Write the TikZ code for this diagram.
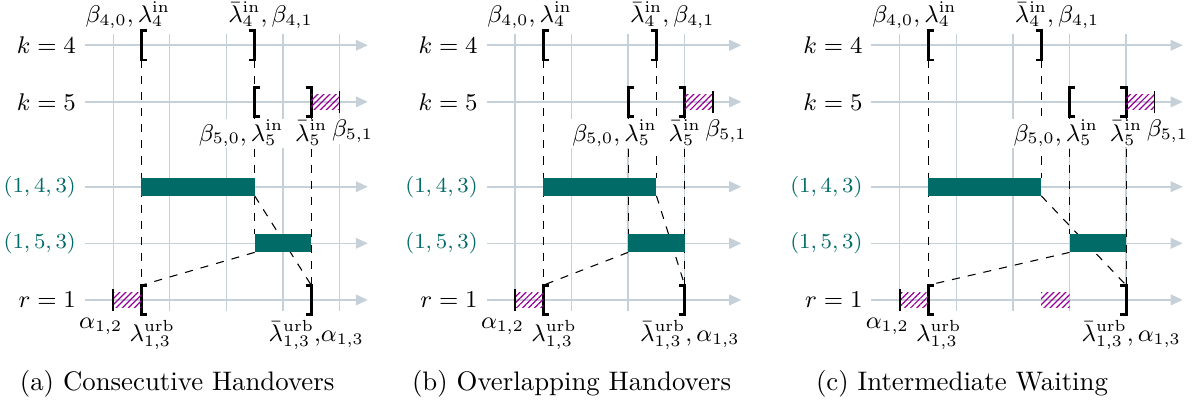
\documentclass[tikz,border=0pt]{standalone}
\usepackage{amsmath}
\usetikzlibrary{arrows.meta, patterns.meta}
\definecolor{gridc}{HTML}{C5D0D9}
\definecolor{barc}{RGB}{0,107,103}
\definecolor{hatchc}{RGB}{150,0,150}

% brackets at (x,y); end coordinates <name>t and <name>b
\newcommand{\obrk}[3]{%
  \draw[brk] (#2+0.1,#3+0.26) -- (#2,#3+0.26) -- (#2,#3-0.26) -- (#2+0.1,#3-0.26);
  \coordinate (#1t) at (#2,#3+0.26);
  \coordinate (#1b) at (#2,#3-0.26);}
\newcommand{\cbrk}[3]{%
  \draw[brk] (#2-0.1,#3+0.26) -- (#2,#3+0.26) -- (#2,#3-0.26) -- (#2-0.1,#3-0.26);
  \coordinate (#1t) at (#2,#3+0.26);
  \coordinate (#1b) at (#2,#3-0.26);}
% waiting interval and end mark
\newcommand{\waitint}[3]{\fill[hatch] (#1,#3-0.13) rectangle (#2,#3+0.13);}
\newcommand{\emark}[2]{\draw[endmark] (#1,#2-0.2) -- (#1,#2+0.2);}
% corners of a usage bar: <name>nw, <name>ne, <name>sw, <name>se
\newcommand{\tbar}[4]{%
  \coordinate (#1nw) at (#2,#4+0.16); \coordinate (#1sw) at (#2,#4-0.16);
  \coordinate (#1ne) at (#3,#4+0.16); \coordinate (#1se) at (#3,#4-0.16);}
% row labels of one panel
\newcommand{\rowlabels}[1]{%
  \node[rowlbl] (#1k4) at (0.35,4.5) {$k=4$};
  \node[rowlbl] (#1k5) at (0.35,3.5) {$k=5$};
  \node[rowlbl, tuple] (#1p143) at (0.35,2) {$(1,4,3)$};
  \node[rowlbl, tuple] (#1p153) at (0.35,1) {$(1,5,3)$};
  \node[rowlbl] (#1r1) at (0.35,0) {$r=1$};}

\begin{document}
\begin{tikzpicture}[
  x=0.742cm, y=0.742cm,
  gridline/.style={draw=gridc, line width=0.5pt},
  axis/.style={draw=gridc, line width=0.6pt, -{Triangle[length=4.5pt, width=4pt]}},
  brk/.style={line width=1.1pt},
  hatch/.style={pattern={Lines[angle=45, distance=1.6pt, line width=0.45pt]}, pattern color=hatchc},
  endmark/.style={line width=0.6pt},
  bar/.style={fill=barc},
  conn/.style={dashed, line width=0.4pt},
  rowlbl/.style={anchor=east, inner sep=0pt, font=\small},
  tuple/.style={text=barc, font=\footnotesize},
  toplbl/.style={anchor=south, inner sep=0pt, font=\small},
  lbl/.style={anchor=north, inner sep=0.5pt, fill=white, font=\small},
  caption/.style={font=\normalsize}
]
  \useasboundingbox (-1.0,-1.873) rectangle (20.1,5.30);

  % (a) consecutive handovers
  \begin{scope}
    \foreach \x in {1,...,5} \draw[gridline] (\x,-0.2) -- (\x,4.7);
    \foreach \y in {0,1,2,3.5,4.5} \draw[axis] (0.5,\y) -- (5.5,\y);
    \rowlabels{a}
    \obrk{a4o}{1.5}{4.5} \cbrk{a4c}{3.5}{4.5}
    \obrk{a5o}{3.5}{3.5} \cbrk{a5c}{4.5}{3.5}
    \obrk{ar1o}{1.5}{0} \cbrk{ar1c}{4.5}{0}
    \tbar{a1}{1.5}{3.5}{2} \tbar{a2}{3.5}{4.5}{1}
    \draw[conn] (a4ob) -- (ar1ot);
    \draw[conn] (a4cb) -- (a5ot);
    \draw[conn] (a5ob) -- (a2nw);
    \draw[conn] (a5cb) -- (ar1ct);
    \draw[conn] (a1se) -- (ar1ct);
    \draw[conn] (a2sw) -- (ar1ot);
    \fill[bar] (a1sw) rectangle (a1ne);
    \fill[bar] (a2sw) rectangle (a2ne);
    \waitint{4.5}{5}{3.5} \emark{5}{3.5}
    \waitint{1}{1.5}{0} \emark{1}{0}
    \node[toplbl] (a40) at (1.26,4.79) {$\beta_{4,0}, \lambda^{\mathrm{in}}_4$};
    \node[toplbl] (a41) at (3.78,4.79) {$\bar\lambda^{\mathrm{in}}_4, \beta_{4,1}$};
    \node[lbl] (a50) at (3.26,3.21) {$\beta_{5,0}, \lambda^{\mathrm{in}}_5$};
    \node[lbl] (a5e) at (4.5,3.21) {$\bar\lambda^{\mathrm{in}}_5$};
    \node[lbl] (a51) at (5.23,3.21) {$\beta_{5,1}$};
    \node[lbl] (a12) at (0.78,-0.29) {$\alpha_{1,2}$};
    \node[lbl] (a13s) at (1.69,-0.33) {$\lambda^{\mathrm{urb}}_{1,3}$};
    \node[lbl] (a13e) at (4.59,-0.33) {$\bar\lambda^{\mathrm{urb}}_{1,3},\!\alpha_{1,3}$};
    \node[caption] (capa) at (2.13,-1.48) {(a) Consecutive Handovers};
  \end{scope}

  % (b) overlapping handovers
  \begin{scope}[shift={(7.1,0)}]
    \foreach \x in {1,...,4} \draw[gridline] (\x,-0.2) -- (\x,4.7);
    \foreach \y in {0,1,2,3.5,4.5} \draw[axis] (0.5,\y) -- (5.0,\y);
    \rowlabels{b}
    \obrk{b4o}{1.5}{4.5} \cbrk{b4c}{3.5}{4.5}
    \obrk{b5o}{3.0}{3.5} \cbrk{b5c}{4.0}{3.5}
    \obrk{br1o}{1.5}{0} \cbrk{br1c}{4.0}{0}
    \tbar{b1}{1.5}{3.5}{2} \tbar{b2}{3.0}{4.0}{1}
    \draw[conn] (b4ob) -- (br1ot);
    \draw[conn] (b4cb) -- (b1ne);
    \draw[conn] (b5ob) -- (b2nw);
    \draw[conn] (b5cb) -- (br1ct);
    \draw[conn] (b1se) -- (br1ct);
    \draw[conn] (b2sw) -- (br1ot);
    \fill[bar] (b1sw) rectangle (b1ne);
    \fill[bar] (b2sw) rectangle (b2ne);
    \waitint{4.0}{4.5}{3.5} \emark{4.5}{3.5}
    \waitint{1}{1.5}{0} \emark{1}{0}
    \node[toplbl] (b40) at (1.26,4.79) {$\beta_{4,0}, \lambda^{\mathrm{in}}_4$};
    \node[toplbl] (b41) at (3.78,4.79) {$\bar\lambda^{\mathrm{in}}_4, \beta_{4,1}$};
    \node[lbl] (b50) at (2.76,3.21) {$\beta_{5,0}, \lambda^{\mathrm{in}}_5$};
    \node[lbl] (b5e) at (4.0,3.21) {$\bar\lambda^{\mathrm{in}}_5$};
    \node[lbl] (b51) at (4.73,3.21) {$\beta_{5,1}$};
    \node[lbl] (b12) at (0.78,-0.29) {$\alpha_{1,2}$};
    \node[lbl] (b13s) at (1.69,-0.33) {$\lambda^{\mathrm{urb}}_{1,3}$};
    \node[lbl] (b13e) at (4.09,-0.33) {$\bar\lambda^{\mathrm{urb}}_{1,3}, \alpha_{1,3}$};
    \node[caption] (capb) at (2.0,-1.48) {(b) Overlapping Handovers};
  \end{scope}

  % (c) intermediate waiting
  \begin{scope}[shift={(13.9,0)}]
    \foreach \x in {1,...,5} \draw[gridline] (\x,-0.2) -- (\x,4.7);
    \foreach \y in {0,1,2,3.5,4.5} \draw[axis] (0.5,\y) -- (6.0,\y);
    \rowlabels{c}
    \obrk{c4o}{1.5}{4.5} \cbrk{c4c}{3.5}{4.5}
    \obrk{c5o}{4.0}{3.5} \cbrk{c5c}{5.0}{3.5}
    \obrk{cr1o}{1.5}{0} \cbrk{cr1c}{5.0}{0}
    \tbar{c1}{1.5}{3.5}{2} \tbar{c2}{4.0}{5.0}{1}
    \draw[conn] (c4ob) -- (cr1ot);
    \draw[conn] (c4cb) -- (c1ne);
    \draw[conn] (c5ob) -- (c2nw);
    \draw[conn] (c5cb) -- (cr1ct);
    \draw[conn] (c1se) -- (cr1ct);
    \draw[conn] (c2sw) -- (cr1ot);
    \fill[bar] (c1sw) rectangle (c1ne);
    \fill[bar] (c2sw) rectangle (c2ne);
    \waitint{5.0}{5.5}{3.5} \emark{5.5}{3.5}
    \waitint{1}{1.5}{0} \emark{1}{0}
    \waitint{3.5}{4.0}{0}
    \node[toplbl] (c40) at (1.26,4.79) {$\beta_{4,0}, \lambda^{\mathrm{in}}_4$};
    \node[toplbl] (c41) at (3.78,4.79) {$\bar\lambda^{\mathrm{in}}_4, \beta_{4,1}$};
    \node[lbl] (c50) at (3.76,3.21) {$\beta_{5,0}, \lambda^{\mathrm{in}}_5$};
    \node[lbl] (c5e) at (5.0,3.21) {$\bar\lambda^{\mathrm{in}}_5$};
    \node[lbl] (c51) at (5.73,3.21) {$\beta_{5,1}$};
    \node[lbl] (c12) at (0.78,-0.29) {$\alpha_{1,2}$};
    \node[lbl] (c13s) at (1.69,-0.33) {$\lambda^{\mathrm{urb}}_{1,3}$};
    \node[lbl] (c13e) at (5.09,-0.33) {$\bar\lambda^{\mathrm{urb}}_{1,3}, \alpha_{1,3}$};
    \node[caption] (capc) at (2.1,-1.48) {(c) Intermediate Waiting};
  \end{scope}
\end{tikzpicture}
\end{document}
